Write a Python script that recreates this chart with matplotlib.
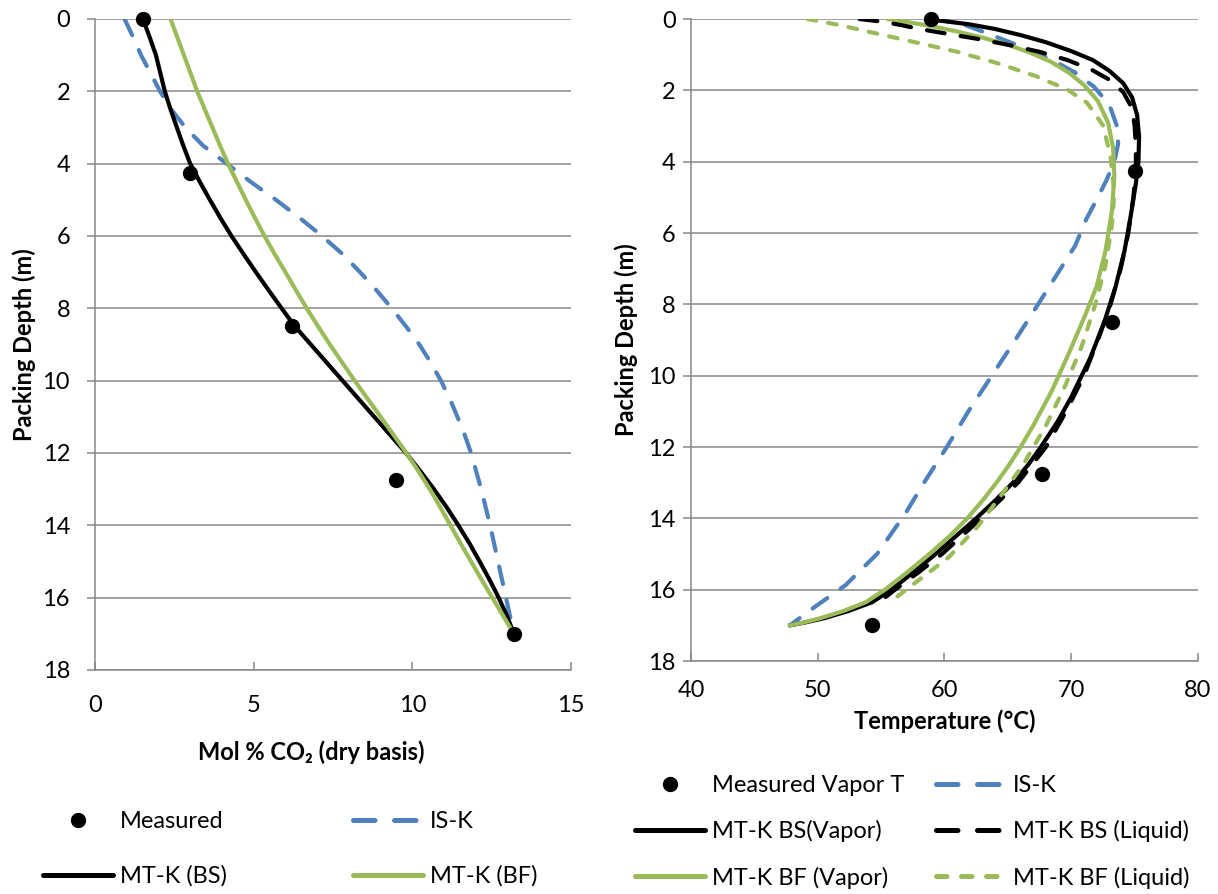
import numpy as np
import matplotlib
matplotlib.use("Agg")
import matplotlib.pyplot as plt
from matplotlib.lines import Line2D

# ---- Левая панель: профиль CO2 по высоте насадки ----
co2_meas_x = [1.5, 3.0, 6.2, 9.5, 13.2]
co2_meas_depth = [0.0, 4.25, 8.5, 12.75, 17.0]

co2_isk_x = [0.93, 1.2, 1.45, 1.75, 2.05, 2.4, 2.85, 3.4, 4.15, 4.9, 5.7, 6.45,
             7.15, 7.8, 8.35, 8.87, 9.35, 9.8, 10.22, 10.58, 10.9, 11.18, 11.42,
             11.65, 11.85, 12.17, 12.45, 12.7, 12.95, 13.2]
co2_isk_depth = [0.0, 0.5, 1.0, 1.5, 2.0, 2.5, 3.0, 3.5, 4.0, 4.5, 5.0, 5.5,
                 6.0, 6.5, 7.0, 7.5, 8.0, 8.5, 9.0, 9.5, 10.0, 10.5, 11.0,
                 11.5, 12.0, 13.0, 14.0, 15.0, 16.0, 17.0]

co2_bs_x = [1.51, 1.72, 1.92, 2.06, 2.2, 2.38, 2.58, 2.78, 3.0, 3.3, 3.62, 3.95,
            4.3, 4.68, 5.07, 5.47, 5.88, 6.3, 6.8, 7.3, 7.8, 8.3, 8.8, 9.3, 9.8,
            10.25, 10.68, 11.08, 11.45, 11.8, 12.12, 12.43, 12.72, 12.98, 13.2]
co2_bs_depth = [0.0, 0.5, 1.0, 1.5, 2.0, 2.5, 3.0, 3.5, 4.0, 4.5, 5.0, 5.5,
                6.0, 6.5, 7.0, 7.5, 8.0, 8.5, 9.0, 9.5, 10.0, 10.5, 11.0, 11.5, 12.0,
                12.5, 13.0, 13.5, 14.0, 14.5, 15.0, 15.5, 16.0, 16.5, 17.0]

co2_bf_x = [2.38, 2.59, 2.8, 3.01, 3.22, 3.46, 3.7, 3.94, 4.19, 4.47, 4.75, 5.04,
            5.34, 5.66, 6.0, 6.33, 6.67, 7.03, 7.4, 7.79, 8.18, 8.59, 9.0, 9.41,
            9.81, 10.19, 10.55, 10.88, 11.2, 11.52, 11.85, 12.18, 12.52, 12.86, 13.2]
co2_bf_depth = [0.0, 0.5, 1.0, 1.5, 2.0, 2.5, 3.0, 3.5, 4.0, 4.5, 5.0, 5.5,
                6.0, 6.5, 7.0, 7.5, 8.0, 8.5, 9.0, 9.5, 10.0, 10.5, 11.0, 11.5,
                12.0, 12.5, 13.0, 13.5, 14.0, 14.5, 15.0, 15.5, 16.0, 16.5, 17.0]

# ---- Правая панель: температурный профиль ----
t_meas = [58.9, 75.0, 73.2, 67.7, 54.3]
t_meas_depth = [0.0, 4.25, 8.5, 12.75, 17.0]

t_isk = [59.0, 60.0, 61.5, 63.0, 64.8, 66.6, 68.5, 70.3, 71.8, 73.0, 73.6, 73.7,
         73.4, 72.8, 72.1, 71.2, 70.3, 68.75, 67.2, 65.6, 63.75, 61.9, 60.2, 58.4,
         56.9, 54.7, 52.2, 49.7, 47.8]
t_isk_depth = [0.0, 0.05, 0.15, 0.35, 0.6, 0.85, 1.15, 1.5, 1.9, 2.4, 3.0, 3.5,
               4.0, 4.5, 5.0, 5.6, 6.36, 7.23, 8.1, 8.99, 9.99, 10.99, 11.99, 12.99,
               13.87, 14.99, 15.87, 16.5, 17.0]

t_bs_vap = [58.6, 60.0, 62.0, 64.0, 66.0, 68.0, 70.0, 71.7, 73.0, 74.1, 74.8, 75.2,
            75.35, 75.3, 75.1, 74.7, 74.2, 73.5, 72.6, 71.5, 70.0, 68.9, 67.6, 66.6,
            65.4, 64.0, 62.5, 60.9, 59.3, 57.6, 55.8, 54.3, 52.4, 50.5, 49.0, 47.8]
t_bs_vap_depth = [0.0, 0.06, 0.15, 0.28, 0.45, 0.65, 0.9, 1.15, 1.45, 1.8, 2.2, 2.7,
                  3.3, 4.0, 4.6, 5.5, 6.5, 7.5, 8.5, 9.5, 10.6, 11.3, 12.0, 12.5,
                  13.0, 13.5, 14.0, 14.5, 15.0, 15.5, 16.0, 16.35, 16.6, 16.8, 16.92, 17.0]

t_bs_liq = [53.3, 55.0, 56.6, 57.9, 60.0, 62.5, 65.0, 67.5, 69.7, 71.6, 73.1, 74.1,
            74.8, 75.0, 75.1, 75.1, 74.9, 74.5, 73.9, 73.1, 72.1, 71.0, 69.6, 68.0,
            65.8, 62.9, 59.8, 58.0, 56.1, 55.0]
t_bs_liq_depth = [0.0, 0.07, 0.17, 0.27, 0.4, 0.55, 0.72, 0.92, 1.15, 1.42, 1.72, 2.05,
                  2.5, 3.0, 3.6, 4.2, 5.0, 6.0, 7.0, 8.0, 9.0, 10.0, 11.0, 12.0,
                  13.0, 14.0, 15.0, 15.5, 16.0, 16.3]

t_bf_vap = [55.5, 57.0, 59.0, 61.0, 63.0, 65.0, 66.8, 68.4, 69.8, 71.0, 72.1, 72.9,
            73.3, 73.4, 73.2, 72.7, 72.0, 71.1, 69.9, 68.5, 67.0, 66.0, 65.1, 64.1,
            63.0, 61.8, 60.4, 58.8, 57.1, 55.3, 53.8, 52.0, 50.2, 48.9, 47.8]
t_bf_vap_depth = [0.0, 0.08, 0.2, 0.35, 0.52, 0.72, 0.95, 1.2, 1.5, 1.85, 2.3, 2.9,
                  3.6, 4.4, 5.4, 6.5, 7.5, 8.3, 9.3, 10.4, 11.4, 12.0, 12.5, 13.0,
                  13.5, 14.0, 14.5, 15.0, 15.5, 16.0, 16.35, 16.6, 16.8, 16.92, 17.0]

t_bf_liq = [49.2, 51.6, 54.7, 57.8, 60.9, 64.1, 67.2, 69.7, 71.25, 72.5, 73.1, 73.4,
            73.2, 72.7, 71.9, 70.8, 69.5, 68.0, 66.2, 64.7, 62.6, 60.3, 57.9, 55.7]
t_bf_liq_depth = [0.0, 0.16, 0.41, 0.66, 0.91, 1.23, 1.6, 1.98, 2.35, 2.98, 3.85, 4.86,
                  5.8, 6.9, 8.0, 9.2, 10.3, 11.4, 12.5, 13.24, 14.24, 15.1, 15.75, 16.35]

depth_ticks = np.arange(0, 19, 2)

plt.rcParams['font.family'] = ['Lato', 'DejaVu Sans']
plt.rcParams['font.size'] = 17

BLUE = '#4F81BD'
GREEN = '#9BBB59'
GRAY = '#878787'
LW = 3.0
DASH = (0, (4.3, 3.9))
DASH_SHORT = (0, (2.1, 2.9))

fig = plt.figure(figsize=(12.18, 8.94), dpi=100)
ax1 = fig.add_axes([0.078, 0.2506, 0.3908, 0.7282])
ax2 = fig.add_axes([0.5673, 0.2606, 0.4163, 0.7181])


def style_axes(ax, xlim, xticks, xpad, ypad):
    ax.set_xlim(*xlim)
    ax.set_ylim(18, 0)
    ax.set_xticks(xticks)
    ax.set_yticks(depth_ticks)
    ax.grid(axis='y', color=GRAY, lw=1.1)
    ax.set_axisbelow(True)
    for side in ('top', 'right'):
        ax.spines[side].set_visible(False)
    for side in ('left', 'bottom'):
        ax.spines[side].set_color(GRAY)
        ax.spines[side].set_linewidth(1.1)
    ax.tick_params(axis='x', direction='in', length=6, width=1.1, color=GRAY, pad=xpad)
    ax.tick_params(axis='y', direction='out', length=6, width=1.1, color=GRAY, pad=ypad)
    ax.set_ylabel('Packing Depth (m)', fontweight='bold')


# Левая панель
ax1.plot(co2_isk_x, co2_isk_depth, color=BLUE, lw=LW, ls=DASH, dash_capstyle='round')
ax1.plot(co2_bs_x, co2_bs_depth, color='black', lw=LW, solid_capstyle='round')
ax1.plot(co2_bf_x, co2_bf_depth, color=GREEN, lw=LW, solid_capstyle='round')
ax1.plot(co2_meas_x, co2_meas_depth, 'o', color='black', ms=10, clip_on=False, zorder=5)
style_axes(ax1, (0, 15), [0, 5, 10, 15], 18, 12)
ax1.yaxis.set_label_coords(-0.125, 0.5)
fig.text(311 / 1218, 1 - 752 / 894, 'Mol % CO₂ (dry basis)', fontweight='bold',
         ha='center', va='center')

# Правая панель
ax2.plot(t_isk, t_isk_depth, color=BLUE, lw=LW, ls=DASH, dash_capstyle='round')
ax2.plot(t_bs_vap, t_bs_vap_depth, color='black', lw=LW, solid_capstyle='round')
ax2.plot(t_bf_vap, t_bf_vap_depth, color=GREEN, lw=LW, solid_capstyle='round')
ax2.plot(t_bs_liq, t_bs_liq_depth, color='black', lw=LW, ls=DASH, dash_capstyle='round')
ax2.plot(t_bf_liq, t_bf_liq_depth, color=GREEN, lw=LW, ls=DASH_SHORT, dash_capstyle='round')
ax2.plot(t_meas, t_meas_depth, 'o', color='black', ms=10, clip_on=False, zorder=5)
style_axes(ax2, (40, 80), [40, 50, 60, 70, 80], 14, 5)
ax2.yaxis.set_label_coords(-0.105, 0.5)
fig.text(944.5 / 1218, 1 - 721 / 894, 'Temperature (°C)', fontweight='bold',
         ha='center', va='center')


def handle(color, ls='-', marker=None):
    if marker:
        return Line2D([], [], color=color, marker=marker, ms=10, ls='none')
    return Line2D([], [], color=color, lw=3.6, ls=ls, dash_capstyle='round',
                  solid_capstyle='round')


left_handles = [handle('black', marker='o'), handle('black'),
                handle(BLUE, DASH), handle(GREEN)]
left_labels = ['Measured', 'MT-K (BS)', 'IS-K', 'MT-K (BF)']
fig.legend(left_handles, left_labels, ncol=2, loc='center',
           bbox_to_anchor=(290 / 1218, 1 - 849 / 894), frameon=False,
           handlelength=2.95, handletextpad=0.3, columnspacing=5.35,
           labelspacing=1.4, numpoints=1)

right_handles = [handle('black', marker='o'), handle('black'), handle(GREEN),
                 handle(BLUE, DASH), handle('black', DASH), handle(GREEN, DASH_SHORT)]
right_labels = ['Measured Vapor T', 'MT-K BS(Vapor)', 'MT-K BF (Vapor)',
                'IS-K', 'MT-K BS (Liquid)', 'MT-K BF (Liquid)']
fig.legend(right_handles, right_labels, ncol=2, loc='center',
           bbox_to_anchor=(912 / 1218, 1 - 832 / 894), frameon=False,
           handlelength=2.95, handletextpad=0.3, columnspacing=1.35,
           labelspacing=1.02, numpoints=1)

fig.savefig('out.png', dpi=100)
